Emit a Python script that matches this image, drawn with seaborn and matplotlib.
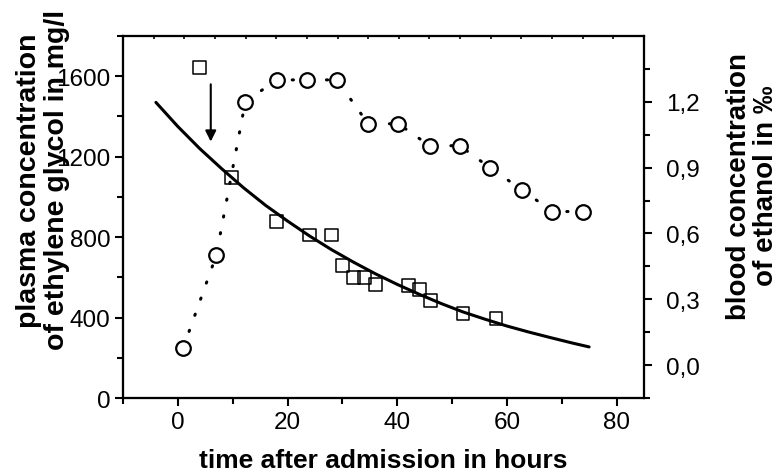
import matplotlib
matplotlib.use("Agg")
import matplotlib.pyplot as plt
import seaborn as sns
import pandas as pd

# ethylene glycol (left axis, mg/l)
eg_time = [4, 9.8, 18, 24, 28, 30, 32, 34, 36, 42, 44, 46, 52, 58]
eg_conc = [1643, 1096, 876, 811, 811, 657, 600, 600, 566, 561, 541, 483, 421, 397]

# fitted elimination curve
fit_time = [-4, 0, 4, 8, 12, 16, 20, 24, 28, 32, 36, 40, 44, 48, 52, 56, 60, 64, 68, 72, 75]
fit_conc = [1470, 1350, 1240, 1140, 1045, 958, 880, 806, 738, 676, 618, 565,
            516, 470, 428, 392, 358, 328, 300, 273, 254]

# ethanol (right axis, per mille)
eth_time = [1, 7, 12.3, 18, 23.5, 29, 34.7, 40.2, 45.9, 51.4, 56.9, 62.7, 68.3, 73.9]
eth_conc = [0.08, 0.50, 1.20, 1.30, 1.30, 1.30, 1.10, 1.10, 1.00, 1.00, 0.90, 0.80, 0.70, 0.70]

left_ticks = [0, 400, 800, 1200, 1600]
right_ticks = [0.0, 0.3, 0.6, 0.9, 1.2]
right_labels = ["0,0", "0,3", "0,6", "0,9", "1,2"]
x_ticks = [0, 20, 40, 60, 80]

eg = pd.DataFrame({"t": eg_time, "c": eg_conc})
fit = pd.DataFrame({"t": fit_time, "c": fit_conc})
eth = pd.DataFrame({"t": eth_time, "c": eth_conc})

sns.set_theme(style="ticks")
plt.rcParams["font.family"] = ["Liberation Sans", "DejaVu Sans"]
plt.rcParams.update({
    "axes.linewidth": 1.5,
    "axes.edgecolor": "black",
    "text.color": "black",
    "axes.labelcolor": "black",
    "xtick.color": "black",
    "ytick.color": "black",
})

fig = plt.figure(figsize=(7.8, 4.77), dpi=100)
ax = fig.add_axes([0.1577, 0.1635, 0.6679, 0.7589])

sns.lineplot(data=fit, x="t", y="c", ax=ax, color="black", linewidth=2.2, sort=False)
sns.scatterplot(data=eg, x="t", y="c", ax=ax, marker="s", s=85,
                facecolor="none", edgecolor="black", linewidth=1.1, zorder=3)

ax.annotate("", xy=(6, 1275), xytext=(6, 1560),
            arrowprops=dict(arrowstyle="-|>", color="black", lw=1.5,
                            mutation_scale=16, shrinkA=0, shrinkB=0))

ax.set_xlim(-10, 85)
ax.set_ylim(0, 1800)
ax.set_xticks(x_ticks)
ax.set_xticks(range(-10, 86, 10), minor=True)
ax.set_yticks(left_ticks)
ax.set_yticks(range(0, 1801, 200), minor=True)
ax.tick_params(axis="both", which="major", length=6, width=1.5, labelsize=17.5, pad=3)
ax.tick_params(axis="both", which="minor", length=4, width=1.5)
ax.set_xlabel("time after admission in hours", fontsize=19, fontweight="bold", labelpad=11)
ax.set_ylabel("")
fig.text(0.055, 0.622, "plasma concentration\nof ethylene glycol in mg/l",
         rotation=90, ha="center", va="center", fontsize=20.5, fontweight="bold",
         linespacing=1.08)

ax2 = ax.twinx()
sns.lineplot(data=eth, x="t", y="c", ax=ax2, color="black", linewidth=2.2,
             linestyle=(0, (0.4, 5.2)), dash_capstyle="round",
             marker="o", markersize=10.5, markerfacecolor="white",
             markeredgecolor="black", markeredgewidth=1.6)
ax2.set_ylim(-0.15, 1.5)
ax2.set_yticks(right_ticks)
ax2.set_yticklabels(right_labels)
ax2.set_yticks([-0.15 + 0.15 * i for i in range(11)], minor=True)
ax2.tick_params(axis="y", which="major", length=6, width=1.5, labelsize=17.5, pad=10)
ax2.tick_params(axis="y", which="minor", length=4, width=1.5)
ax2.set_ylabel("")
fig.text(0.965, 0.61, "blood concentration\nof ethanol in \u2030",
         rotation=90, ha="center", va="center", fontsize=20, fontweight="bold",
         linespacing=1.08)

ax3 = ax.twiny()
ax3.set_xlim(0, 17)
ax3.set_xticks(range(18))
ax3.tick_params(axis="x", which="major", direction="in", length=2.5, width=1.2,
                labeltop=False)

fig.savefig("out.png", dpi=100)
